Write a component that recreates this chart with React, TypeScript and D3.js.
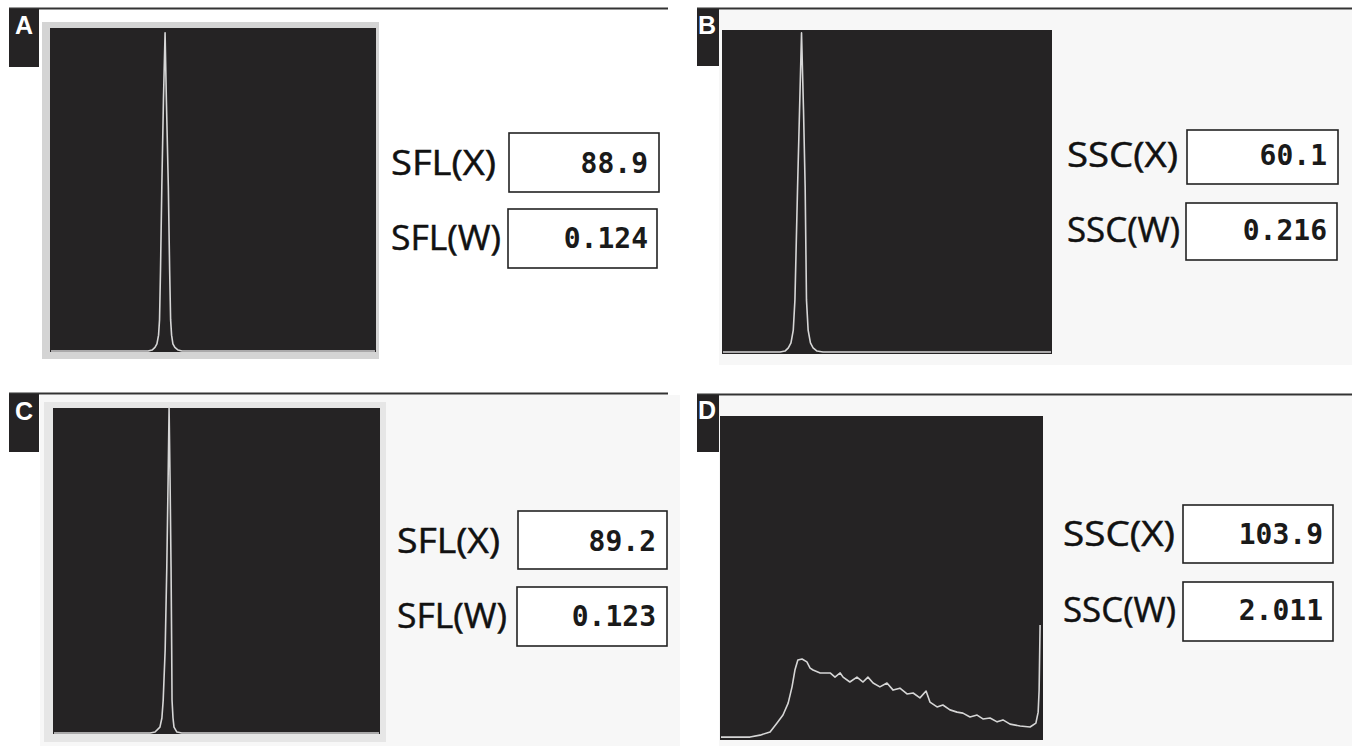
import React from "react";
import * as d3 from "d3";

// ---- data (relative channel 0-100, relative count 0-100) ----
const panelLetters = ["A", "B", "C", "D"];
const labelsX = ["SFL(X)", "SSC(X)", "SFL(X)", "SSC(X)"];
const labelsW = ["SFL(W)", "SSC(W)", "SFL(W)", "SSC(W)"];
const valuesX = ["88.9", "60.1", "89.2", "103.9"];
const valuesW = ["0.124", "0.216", "0.123", "2.011"];

const histA: [number, number][] = [
  [0.3, 0.3], [30.1, 0.3], [31.3, 0.6], [32.2, 1.4], [32.8, 2.5], [33.3, 5.2], [33.6, 9.9],
  [33.9, 25.3], [34.3, 50.9], [34.8, 77.8], [35.3, 98.5], [35.7, 77.8], [36.3, 50.9],
  [36.7, 25.3], [37.0, 9.9], [37.3, 5.2], [37.7, 2.5], [38.3, 1.4], [39.3, 0.6], [40.5, 0.3],
  [99.7, 0.3],
];
const histB: [number, number][] = [
  [0.3, 0.6], [17.6, 0.6], [19.1, 0.9], [20.1, 1.9], [20.9, 3.4], [21.6, 7.4], [22.1, 16.7],
  [22.9, 51.5], [23.5, 75.3], [24.1, 99.1], [24.7, 75.3], [25.2, 51.5], [25.6, 16.7],
  [26.1, 7.4], [26.8, 3.4], [27.6, 1.9], [28.8, 0.9], [30.6, 0.6], [99.7, 0.6],
];
const histC: [number, number][] = [
  [0.3, 0.3], [29.7, 0.3], [31.2, 0.6], [32.7, 2.1], [33.3, 4.9], [33.7, 10.4], [34.3, 25.8],
  [34.8, 51.2], [35.2, 77.9], [35.5, 100], [35.8, 77.9], [36.1, 51.2], [36.3, 25.8],
  [36.4, 10.4], [36.7, 4.9], [37.0, 2.1], [37.9, 0.6], [39.4, 0.3], [99.7, 0.3],
];
const histD: [number, number][] = [
  [0.3, 0.9], [9.3, 0.9], [12.4, 1.5], [15.5, 2.5], [17.6, 5.2], [19.5, 7.7], [21.1, 11.4],
  [22.3, 16.4], [23.2, 21.6], [24.1, 24.7], [25.4, 25.0], [26.9, 24.1], [27.9, 22.2],
  [28.8, 21.6], [31.0, 20.7], [34.1, 20.7], [35.6, 19.4], [37.2, 20.7], [38.1, 19.4],
  [40.2, 17.9], [42.4, 19.4], [44.3, 17.9], [45.8, 19.4], [47.4, 17.6], [49.5, 16.4],
  [51.7, 17.6], [53.6, 15.4], [55.7, 16.0], [57.9, 14.2], [59.8, 14.5], [61.9, 13.0],
  [63.8, 15.1], [65.0, 11.7], [67.2, 10.2], [69.0, 10.8], [71.2, 9.3], [73.4, 8.6],
  [75.2, 8.3], [77.4, 7.1], [79.6, 7.7], [81.4, 6.5], [83.6, 6.8], [85.8, 5.6], [87.6, 6.2],
  [89.8, 4.9], [92.9, 4.3], [96.0, 4.0], [97.8, 5.2], [98.5, 8.6], [98.8, 15.4], [99.1, 35.5],
];
const hists = [histA, histB, histC, histD];

// ---- layout ----
type Layout = {
  sep: [number, number, number];
  tag: [number, number, number, number];
  tagTextX: number;
  tagBase: number;
  frame?: [number, number, number, number];
  bg?: [number, number, number, number];
  plot: [number, number, number, number];
  labelX: number;
  lenX: number;
  lenW: number;
  base1: number;
  base2: number;
  box1: [number, number, number, number];
  box2: [number, number, number, number];
  valRight: number;
};

const layouts: Layout[] = [
  {
    sep: [9, 668, 8.5], tag: [9, 9, 30, 58], tagTextX: 24, tagBase: 34,
    frame: [42, 22, 337, 337],
    plot: [50, 28, 326, 324], labelX: 391, lenX: 105, lenW: 110, base1: 175, base2: 250,
    box1: [509, 133, 150, 59], box2: [508, 209, 149, 59], valRight: 648,
  },
  {
    sep: [697, 1352, 8.5], tag: [697, 9, 22, 57], tagTextX: 707, tagBase: 34,
    bg: [719, 10, 633, 355],
    plot: [722, 30, 330, 324], labelX: 1067, lenX: 111, lenW: 113, base1: 167, base2: 242,
    box1: [1187, 130, 151, 54], box2: [1186, 203, 151, 57], valRight: 1327,
  },
  {
    sep: [9, 668, 393.5], tag: [9, 394, 30, 58], tagTextX: 24, tagBase: 420,
    frame: [44, 402, 342, 340], bg: [40, 395, 640, 351],
    plot: [53, 408, 327, 326], labelX: 397, lenX: 103, lenW: 110, base1: 553, base2: 628,
    box1: [518, 511, 149, 58], box2: [517, 587, 150, 59], valRight: 656,
  },
  {
    sep: [697, 1352, 394.5], tag: [697, 395, 22, 57], tagTextX: 707, tagBase: 419,
    bg: [719, 396, 633, 350],
    plot: [720, 416, 323, 324], labelX: 1063, lenX: 112, lenW: 113, base1: 546, base2: 622,
    box1: [1183, 505, 150, 58], box2: [1183, 582, 150, 59], valRight: 1323,
  },
];

const DARK = "#252324";

function Panel({ i }: { i: number }) {
  const L = layouts[i];
  const [px, py, pw, ph] = L.plot;
  const x = d3.scaleLinear().domain([0, 100]).range([px, px + pw]);
  const y = d3.scaleLinear().domain([0, 100]).range([py + ph, py]);
  const line = d3
    .line<[number, number]>()
    .x((d) => x(d[0]))
    .y((d) => y(d[1]))
    .curve(d3.curveLinear);
  const labelFont = "'Open Sans', 'DejaVu Sans', sans-serif";
  const monoFont = "'DejaVu Sans Mono', 'Liberation Mono', monospace";
  return (
    <g>
      {L.bg && <rect x={L.bg[0]} y={L.bg[1]} width={L.bg[2]} height={L.bg[3]} fill="#f7f7f7" />}
      <line x1={L.sep[0]} x2={L.sep[1]} y1={L.sep[2]} y2={L.sep[2]} stroke="#333" strokeWidth={1.8} />
      <rect x={L.tag[0]} y={L.tag[1]} width={L.tag[2]} height={L.tag[3]} fill={DARK} />
      <text
        x={L.tagTextX}
        y={L.tagBase}
        fill="#fff"
        fontFamily="'Liberation Sans', Arial, sans-serif"
        fontWeight="bold"
        fontSize={25}
        textAnchor="middle"
      >
        {panelLetters[i]}
      </text>
      {L.frame && <rect x={L.frame[0]} y={L.frame[1]} width={L.frame[2]} height={L.frame[3]} fill={i === 0 ? "#d4d4d4" : "#e6e6e6"} />}
      <rect x={px} y={py} width={pw} height={ph} fill={DARK} />
      <path d={line(hists[i]) || ""} fill="none" stroke="#d6d6d6" strokeWidth={1.6} strokeLinejoin="round" />
      <text x={L.labelX} y={L.base1} fontFamily={labelFont} fontSize={35} fill="#111" stroke="#111" strokeWidth={0.5}
        textLength={L.lenX} lengthAdjust="spacingAndGlyphs">
        {labelsX[i]}
      </text>
      <text x={L.labelX} y={L.base2} fontFamily={labelFont} fontSize={35} fill="#111" stroke="#111" strokeWidth={0.5}
        textLength={L.lenW} lengthAdjust="spacingAndGlyphs">
        {labelsW[i]}
      </text>
      <rect x={L.box1[0]} y={L.box1[1]} width={L.box1[2]} height={L.box1[3]} fill="#fff" stroke="#222" strokeWidth={1.6} />
      <rect x={L.box2[0]} y={L.box2[1]} width={L.box2[2]} height={L.box2[3]} fill="#fff" stroke="#222" strokeWidth={1.6} />
      <text x={L.valRight} y={L.base1 - 2} fontFamily={monoFont} fontWeight="bold" fontSize={28} fill="#1a1a1a" textAnchor="end">
        {valuesX[i]}
      </text>
      <text x={L.valRight} y={L.base2 - 2} fontFamily={monoFont} fontWeight="bold" fontSize={28} fill="#1a1a1a" textAnchor="end">
        {valuesW[i]}
      </text>
    </g>
  );
}

export default function App() {
  return (
    <svg
      width={1352}
      height={746}
      style={{ position: "absolute", left: 0, top: 0, background: "#fff" }}
    >
      <rect x={0} y={0} width={1352} height={746} fill="#fff" />
      {[0, 1, 2, 3].map((i) => (
        <Panel key={i} i={i} />
      ))}
    </svg>
  );
}
